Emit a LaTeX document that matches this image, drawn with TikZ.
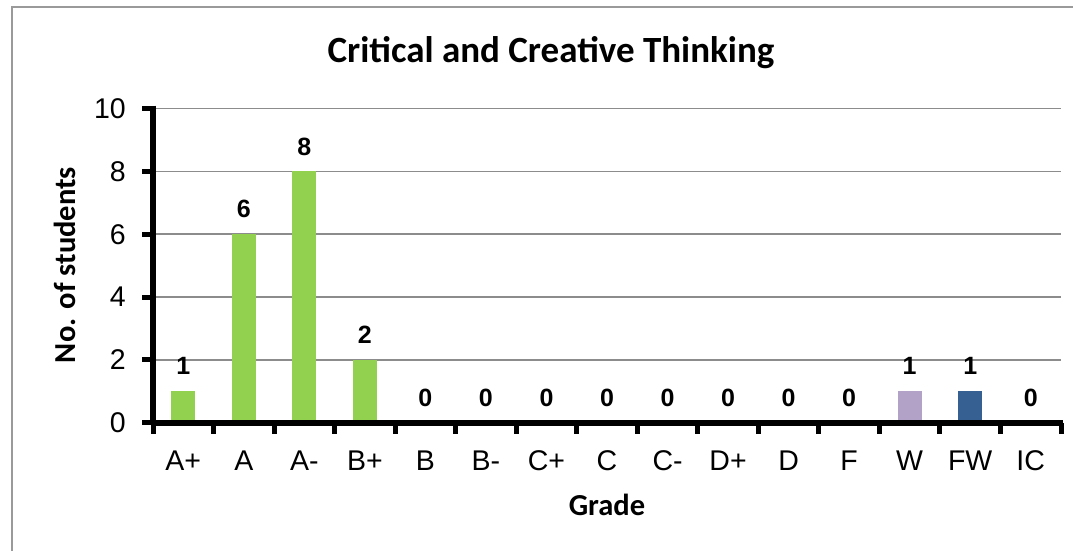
\documentclass[tikz,border=0pt]{standalone}
\usepackage{fontspec}
\setmainfont{Liberation Sans}
\newfontfamily\calib{Carlito}
\definecolor{bargreen}{HTML}{92D050}
\definecolor{barpurple}{HTML}{B2A2C7}
\definecolor{barblue}{HTML}{376092}
\definecolor{gridgray}{HTML}{8C8C8C}
\definecolor{framegray}{HTML}{9A9A9A}
\begin{document}
\begin{tikzpicture}[x=1pt,y=-1pt,
  charttitle/.style={font=\calib\bfseries\fontsize{37}{40}\selectfont, anchor=base, inner sep=0pt},
  axtitle/.style={font=\calib\bfseries\fontsize{30.5}{32}\selectfont, anchor=base, inner sep=0pt},
  ticklab/.style={font=\fontsize{28.5}{30}\selectfont, inner sep=0pt},
  datalab/.style={font=\bfseries\fontsize{25}{27}\selectfont, inner sep=0pt},
  gridline/.style={draw=gridgray, line width=1.5pt},
  axisline/.style={draw=black, line width=5.5pt},
  tickmark/.style={draw=black, line width=5pt},
  bar/.style={draw=none, inner sep=0pt, minimum width=24pt, anchor=south}]
\useasboundingbox (0,0) rectangle (1073,551);
% frame
\coordinate (fa) at (12,551);
\coordinate (fb) at (12,7);
\coordinate (fc) at (1073,7);
\draw[framegray, line width=1.5pt] (fa) -- (fb) -- (fc);
% title
\node[charttitle] (title) at (551,63) {Critical and Creative Thinking};
% gridlines
\foreach \v in {2,4,6,8,10} {
  \coordinate (gl\v) at (153,422.6-31.4*\v);
  \coordinate (gr\v) at (1061,422.6-31.4*\v);
  \draw[gridline] (gl\v) -- (gr\v);
}
% bars
\def\vals{{1,6,8,2,0,0,0,0,0,0,0,0,1,1,0}}
\def\names{{"A+","A","A-","B+","B","B-","C+","C","C-","D+","D","F","W","FW","IC"}}
\foreach \i/\col in {0/bargreen,1/bargreen,2/bargreen,3/bargreen,12/barpurple,13/barblue} {
  \pgfmathsetmacro{\cx}{153+60.533*(\i+0.5)}
  \pgfmathsetmacro{\hv}{31.4*\vals[\i]}
  \node[bar, fill=\col, minimum height=\hv pt] (b\i) at (\cx,422.6) {};
}
% axes
\coordinate (yaxtop) at (153,105.5);
\coordinate (origin) at (153,423);
\coordinate (xaxstart) at (150.5,423);
\coordinate (xaxend) at (1063,423);
\draw[axisline] (yaxtop) -- (origin);
\draw[axisline] (xaxstart) -- (xaxend);
\foreach \v in {0,2,4,6,8,10} {
  \coordinate (ta\v) at (142,422.6-31.4*\v);
  \coordinate (tb\v) at (153,422.6-31.4*\v);
  \draw[tickmark] (ta\v) -- (tb\v);
  \node[ticklab, anchor=east] (yl\v) at (126,422.6-31.4*\v) {\v};
}
\foreach \k in {0,...,15} {
  \coordinate (xa\k) at (153+60.533*\k,423);
  \coordinate (xb\k) at (153+60.533*\k,434);
  \draw[tickmark] (xa\k) -- (xb\k);
}
% category labels and data labels
\foreach \i in {0,...,14} {
  \pgfmathsetmacro{\cx}{153+60.533*(\i+0.5)}
  \pgfmathsetmacro{\v}{int(\vals[\i])}
  \pgfmathsetmacro{\nm}{\names[\i]}
  \node[ticklab] (c\i) at (\cx,461) {\nm};
  \node[datalab] (d\i) at (\cx,422.6-31.4*\v-25) {\v};
}
% axis titles
\node[axtitle] (xt) at (607,515) {Grade};
\node[axtitle, rotate=90] (yt) at (75,265) {No. of students};
\end{tikzpicture}
\end{document}
